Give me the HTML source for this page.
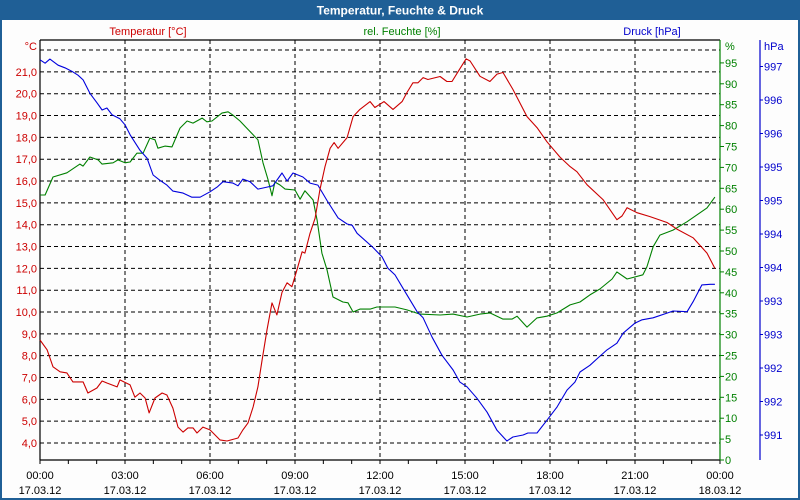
<!DOCTYPE html>
<html><head><meta charset="utf-8"><style>
html,body{margin:0;padding:0;background:#fff}
svg{display:block;font-family:"Liberation Sans","DejaVu Sans",sans-serif}
</style></head><body>
<svg id="chart" width="800" height="500" viewBox="0 0 800 500">
<rect x="0" y="0" width="800" height="500" fill="#fdfdfd"/>
<rect x="1" y="1" width="798" height="498" fill="none" stroke="#1f5f96" stroke-width="2"/>
<rect x="0" y="0" width="800" height="20" fill="#1f5f96"/>
<text x="400" y="14.5" text-anchor="middle" fill="#fff" font-weight="bold" font-size="12">Temperatur, Feuchte &amp; Druck</text>
<text x="148" y="35" text-anchor="middle" fill="#cc0000" font-size="11">Temperatur [°C]</text>
<text x="402" y="35" text-anchor="middle" fill="#008000" font-size="11">rel. Feuchte [%]</text>
<text x="652" y="35" text-anchor="middle" fill="#0000cc" font-size="11">Druck [hPa]</text>
<text x="37" y="50" text-anchor="end" fill="#cc0000" font-size="11">°C</text>
<text x="725" y="50" fill="#008000" font-size="11">%</text>
<text x="764" y="50" fill="#0000cc" font-size="11">hPa</text>
<g id="grid"></g><g id="axes"></g><g id="series"></g>
</svg>
<script>
const tempTimes=[0,.25,.46,.71,.95,1.16,1.52,1.69,2.01,2.19,2.36,2.72,2.82,3.18,3.35,3.53,3.71,3.85,4.06,4.31,4.48,4.69,4.87,5.05,5.22,5.4,5.54,5.75,6.0,6.35,6.6,6.99,7.16,7.34,7.52,7.69,7.84,8.01,8.19,8.36,8.54,8.72,8.89,9.07,9.25,9.35,9.53,9.71,9.88,10.06,10.24,10.38,10.52,10.84,11.05,11.29,11.65,11.82,12.14,12.46,12.78,12.95,13.16,13.34,13.52,13.69,14.12,14.36,14.54,14.75,15.04,15.18,15.53,15.88,16.13,16.34,16.69,17.19,17.54,17.89,18.35,18.71,18.95,19.31,19.87,20.36,20.54,20.72,21.07,21.53,22.13,22.48,23.05,23.54,23.82];
const tempValues=[8.72,8.27,7.49,7.26,7.21,6.8,6.8,6.29,6.52,6.84,6.75,6.57,6.89,6.66,6.1,6.29,6.06,5.38,6.06,6.29,6.2,5.6,4.73,4.5,4.69,4.69,4.46,4.73,4.6,4.14,4.09,4.23,4.6,4.92,5.65,6.57,7.8,9.18,10.42,9.87,10.9,11.34,11.16,11.94,12.76,12.7,13.6,14.3,15.6,16.66,17.5,17.76,17.5,17.99,18.95,19.28,19.64,19.37,19.64,19.28,19.64,20.05,20.5,20.5,20.74,20.65,20.79,20.56,20.56,21.0,21.6,21.5,20.8,20.56,20.9,20.97,20.2,18.95,18.45,17.8,17.1,16.66,16.43,15.83,15.15,14.23,14.4,14.78,14.55,14.37,14.1,13.8,13.4,12.7,12.0];
const humTimes=[0,.18,.46,.95,1.41,1.52,1.76,2.05,2.19,2.58,2.75,3.0,3.18,3.42,3.64,3.88,4.06,4.16,4.41,4.66,4.94,5.19,5.4,5.72,5.89,6.07,6.42,6.64,6.81,7.06,7.52,7.69,7.87,8.05,8.19,8.29,8.47,8.65,9.0,9.18,9.35,9.64,9.78,9.95,10.13,10.34,10.69,10.87,11.05,11.29,11.65,11.89,12.53,12.95,13.41,14.12,14.58,15.07,15.53,15.88,16.34,16.66,16.84,17.19,17.54,17.89,18.25,18.71,19.06,19.41,19.76,20.19,20.36,20.72,21.28,21.42,21.64,21.88,22.34,22.84,23.54,23.82];
const humValues=[63.4,63.4,67.7,68.7,70.8,70.3,72.5,71.8,70.8,71.1,71.8,71.1,71.3,73.4,73.4,77,76.6,74.6,75.1,74.9,79.4,81.1,80.6,81.8,80.9,81.1,83,83.3,82.5,81.1,77.8,76.6,71.1,67,63.2,66.5,65.8,64.8,64.6,62.4,64.4,62.2,57.4,49.5,45.5,39,37.8,37.6,35.4,36.1,36.1,36.6,36.6,35.9,34.9,34.7,34.9,34.2,34.9,35.2,33.7,33.7,34.4,31.8,34,34.4,35.2,37.1,37.8,39.5,40.9,43.3,45,43.3,44.3,46.2,51,53.8,55,57,60.3,62.9];
const presTimes=[0,.18,.35,.64,.88,1.16,1.34,1.52,1.76,2.01,2.19,2.36,2.54,2.82,3.0,3.18,3.53,3.78,3.99,4.24,4.48,4.69,5.05,5.36,5.65,6.0,6.25,6.46,6.81,6.99,7.16,7.41,7.69,8.01,8.22,8.54,8.72,8.93,9.28,9.53,9.81,10.13,10.52,10.84,11.02,11.19,11.75,12.07,12.28,12.53,12.81,13.31,13.52,13.84,14.19,14.58,14.82,15.07,15.42,15.78,16.13,16.48,16.69,17.05,17.22,17.54,17.89,18.25,18.6,18.88,19.06,19.41,19.69,20.01,20.36,20.58,21.0,21.25,21.64,22.13,22.34,22.84,23.05,23.36,23.65,23.82];
const presValues=[996.6,996.55,996.61,996.52,996.48,996.42,996.37,996.3,996.1,995.96,995.85,995.88,995.78,995.72,995.63,995.48,995.25,995.13,994.88,994.8,994.73,994.64,994.61,994.55,994.55,994.63,994.7,994.78,994.76,994.72,994.82,994.78,994.67,994.7,994.72,994.91,994.79,994.91,994.85,994.76,994.73,994.5,994.24,994.15,994.13,994.01,993.8,993.66,993.49,993.39,993.19,992.84,992.75,992.46,992.19,991.97,991.79,991.72,991.55,991.34,991.07,990.91,990.97,991.0,991.03,991.03,991.22,991.42,991.67,991.79,991.94,992.04,992.15,992.27,992.37,992.52,992.67,992.72,992.75,992.82,992.85,992.84,992.99,993.24,993.25,993.25];
const tempTicks=[4,5,6,7,8,9,10,11,12,13,14,15,16,17,18,19,20,21,22];
const tempTickLabels=["4,0","5,0","6,0","7,0","8,0","9,0","10,0","11,0","12,0","13,0","14,0","15,0","16,0","17,0","18,0","19,0","20,0","21,0",""];
const humTicks=[0,5,10,15,20,25,30,35,40,45,50,55,60,65,70,75,80,85,90,95];
const presTicks=[991,991.5,992,992.5,993,993.5,994,994.5,995,995.5,996,996.5];
const presTickLabels=["991","992","992","993","993","994","994","995","995","996","996","997"];
const timeTicks=[0,3,6,9,12,15,18,21,24];
const timeLabels=["00:00","03:00","06:00","09:00","12:00","15:00","18:00","21:00","00:00"];
const dateLabels=["17.03.12","17.03.12","17.03.12","17.03.12","17.03.12","17.03.12","17.03.12","17.03.12","18.03.12"];

const L=40,R=720,T=40,B=460;
const xS=h=>L+h*(R-L)/24;
const yT=v=>443-(v-4)*21.83;
const yH=v=>460-v*4.18;
const yP=v=>435-(v-991)*67;
const NS='http://www.w3.org/2000/svg';
function mk(parent,tag,attrs){const e=document.createElementNS(NS,tag);for(const k in attrs)e.setAttribute(k,attrs[k]);document.getElementById(parent).appendChild(e);return e;}

tempTicks.forEach((v,i)=>{
  const g=mk('grid','line',{x1:L,x2:R,y1:yT(v),y2:yT(v),stroke:'#000','stroke-dasharray':'4,3','stroke-width':1});
  
  
  const t=mk('axes','text',{x:37,y:yT(v)+4,'text-anchor':'end',fill:'#cc0000','font-size':11});
  t.textContent=tempTickLabels[i];
  
  
});
timeTicks.forEach((h,i)=>{
  if(i>0&&i<timeTicks.length-1){
    const g=mk('grid','line',{x1:xS(h),x2:xS(h),y1:T,y2:B,stroke:'#000','stroke-dasharray':'4,3'});
    
    
  }
  const t=mk('axes','text',{x:xS(h),y:479,'text-anchor':'middle',fill:'#000','font-size':11});
  t.textContent=timeLabels[i];
  
  
  const d=mk('axes','text',{x:xS(h),y:494,'text-anchor':'middle',fill:'#000','font-size':11});
  d.textContent=dateLabels[i];
  
  
});
for(let h=0;h<=24;h++){
  const k=mk('axes','line',{x1:xS(h),x2:xS(h),y1:B,y2:B+4,stroke:'#000'});
  
  
}
humTicks.forEach(v=>{
  const k=mk('axes','line',{x1:R,x2:R+4,y1:yH(v),y2:yH(v),stroke:'#008000'});
  
  
  const t=mk('axes','text',{x:R+5,y:yH(v)+4,fill:'#008000','font-size':11});
  t.textContent=String(v);
  
  
});
presTicks.forEach((v,i)=>{
  const k=mk('axes','line',{x1:760,x2:763,y1:yP(v),y2:yP(v),stroke:'#0000cc'});
  
  
  const t=mk('axes','text',{x:764,y:yP(v)+4,fill:'#0000cc','font-size':11});
  t.textContent=presTickLabels[i];
  
  
});
const ax=[[L,T,R,T,'#000','plot-top-border'],[L,T,L,B,'#000','temperature-axis'],[L,B,R,B,'#000','x-axis'],[R,T,R,B,'#008000','humidity-axis'],[760,T,760,B,'#0000cc','pressure-axis']];
ax.forEach(a=>{
  const l=mk('axes','line',{x1:a[0],y1:a[1],x2:a[2],y2:a[3],stroke:a[4],'stroke-width':1.2});
  
  
});
function series(times,vals,ys,color,name){
  const n=Math.min(times.length,vals.length);
  let d='';
  for(let i=0;i<n;i++)d+=(i?'L':'M')+xS(times[i]).toFixed(1)+','+ys(vals[i]).toFixed(1);
  const p=mk('series','path',{d:d,fill:'none',stroke:color,'stroke-width':1.1,'stroke-linejoin':'round'});
  
  
}
series(humTimes,humValues,yH,'#008000','humidity-line');
series(presTimes,presValues,yP,'#0000dd','pressure-line');
series(tempTimes,tempValues,yT,'#cc0000','temperature-line');
</script>
</body></html>
